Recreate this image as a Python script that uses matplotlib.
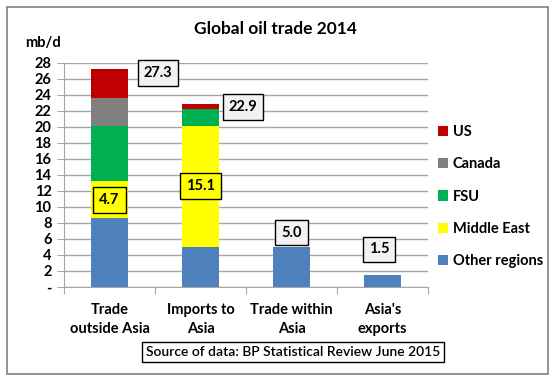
import numpy as np
import matplotlib.pyplot as plt
from matplotlib.patches import Rectangle

plt.rcParams['font.family'] = ['Lato', 'DejaVu Sans']

# Data (mb/d)
categories = ['Trade\noutside Asia', 'Imports to\nAsia', 'Trade within\nAsia', "Asia's\nexports"]
series = ['Other regions', 'Middle East', 'FSU', 'Canada', 'US']
other = [8.6, 5.0, 5.0, 1.5]
middle_east = [4.7, 15.1, 0.0, 0.0]
fsu = [6.8, 2.2, 0.0, 0.0]
canada = [3.5, 0.0, 0.0, 0.0]
us = [3.7, 0.6, 0.0, 0.0]
totals = ['27.3', '22.9', '5.0', '1.5']
me_labels = ['4.7', '15.1']
colors = ['#4f81bd', '#ffff00', '#00b050', '#808080', '#c00000']

fig = plt.figure(figsize=(5.55, 3.81), dpi=100)
ax = fig.add_axes([64 / 555, 1 - 287 / 381, (428 - 64) / 555, (287 - 63) / 381])

x = np.arange(len(categories))
bottom = np.zeros(len(categories))
for vals, name, col in zip([other, middle_east, fsu, canada, us], series, colors):
    ax.bar(x, vals, 0.4, bottom=bottom, color=col, label=name, zorder=2)
    bottom += np.array(vals)

ax.set_xlim(-0.5, 3.5)
ax.set_ylim(0, 28)
ax.set_yticks(range(0, 29, 2))
ax.set_yticklabels(['-'] + [str(v) for v in range(2, 29, 2)], fontweight='bold', fontsize=10.5)
ax.yaxis.grid(True, color='#a6a6a6', linewidth=1, zorder=0)
ax.set_axisbelow(True)
for s in ['top', 'right']:
    ax.spines[s].set_visible(False)
ax.spines['left'].set_color('#a6a6a6')
ax.spines['bottom'].set_color('#a6a6a6')
ax.tick_params(axis='y', length=5, color='#a6a6a6', pad=4)

# category labels and boundary ticks
ax.set_xticks(np.arange(-0.5, 4, 1))
ax.set_xticklabels([])
ax.tick_params(axis='x', length=5, color='#a6a6a6')
for i, c in enumerate(categories):
    ax.text(i, -2.0, c, ha='center', va='top', fontsize=10.5, fontweight='bold',
            linespacing=1.45)

# total labels (offset from category centre)
box_gray = dict(boxstyle='square,pad=0.4', fc='#f2f2f2', ec='black', lw=1)
total_pos = [(0.53, 26.75), (0.47, 22.5), (0.0, 6.8), (-0.04, 4.7)]
for i, ((dx, py), t) in enumerate(zip(total_pos, totals)):
    ax.text(i + dx, py, t, ha='center', va='center', fontsize=10.5, fontweight='bold', bbox=box_gray)

box_yel = dict(boxstyle='square,pad=0.4', fc='#ffff00', ec='black', lw=1)
me_pos = [(0.0, 10.9), (0.0, 12.6)]
for i, ((dx, py), t) in enumerate(zip(me_pos, me_labels)):
    ax.text(i + dx, py, t, ha='center', va='center', fontsize=10.5, fontweight='bold', bbox=box_yel)

# legend
h, l = ax.get_legend_handles_labels()
fig.legend(h[::-1], l[::-1], loc='upper left', bbox_to_anchor=(425 / 555, 1 - 112 / 381),
           frameon=False, prop={'weight': 'bold', 'size': 10.5},
           handlelength=0.7, handleheight=0.7, handletextpad=0.3, labelspacing=1.25)

fig.text(275 / 555, 1 - 29 / 381, 'Global oil trade 2014', ha='center', va='center',
         fontsize=12.5, fontweight='bold')
fig.text(25 / 555, 1 - 43 / 381, 'mb/d', ha='left', va='center', fontsize=10.5, fontweight='bold')
fig.text(293 / 555, 1 - 352 / 381, 'Source of data: BP Statistical Review June 2015',
         ha='center', va='center', fontsize=10, fontweight='semibold',
         bbox=dict(boxstyle='square,pad=0.3', fc='white', ec='black', lw=1))

fig.patches.append(Rectangle((7 / 555, 7 / 381), 541 / 555, 367 / 381, transform=fig.transFigure,
                             fill=False, ec='#808080', lw=1.2))

fig.savefig('out.png', dpi=100)
